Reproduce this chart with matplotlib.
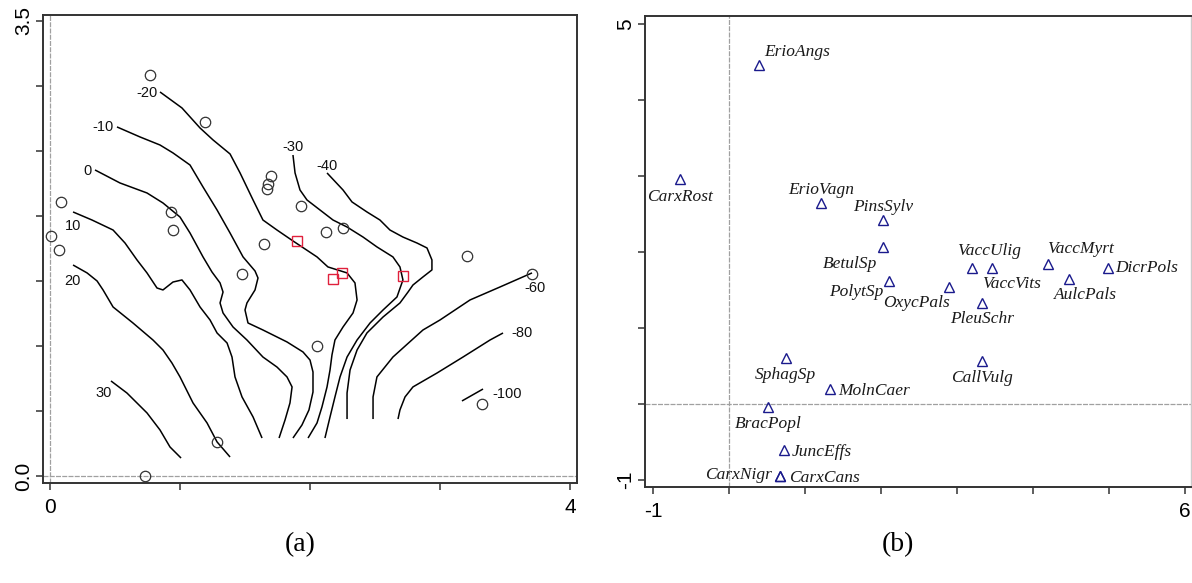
import matplotlib
matplotlib.use("Agg")
import matplotlib.pyplot as plt

# ---------------- Panel (a) data ----------------
site_x = [0.769, 1.192, 1.700, 1.677, 1.669, 1.931, 0.085, 0.931, 0.946, 0.008, 0.069,
          1.646, 1.477, 2.123, 2.254, 3.208, 3.708, 2.054, 3.323, 1.285, 0.731]
site_y = [3.085, 2.723, 2.308, 2.246, 2.208, 2.077, 2.108, 2.031, 1.892, 1.846, 1.738,
          1.785, 1.554, 1.877, 1.908, 1.692, 1.554, 1.000, 0.554, 0.262, 0.000]

special_x = [1.900, 2.246, 2.177, 2.715]
special_y = [1.808, 1.562, 1.515, 1.538]

c30_x = [0.469, 0.592, 0.746, 0.846, 0.923, 1.008]
c30_y = [0.731, 0.638, 0.485, 0.354, 0.223, 0.138]

c20_x = [0.177, 0.285, 0.362, 0.408, 0.485, 0.638, 0.792, 0.869, 0.938, 1.000, 1.100, 1.208, 1.285, 1.385]
c20_y = [1.623, 1.562, 1.500, 1.431, 1.300, 1.177, 1.046, 0.969, 0.869, 0.762, 0.562, 0.408, 0.262, 0.146]

c10_x = [0.177, 0.323, 0.485, 0.577, 0.669, 0.746, 0.823, 0.869, 0.946, 1.015, 1.077,
         1.154, 1.231, 1.285, 1.362, 1.400, 1.423, 1.477, 1.562, 1.631]
c10_y = [2.031, 1.969, 1.892, 1.792, 1.662, 1.562, 1.446, 1.431, 1.492, 1.508, 1.431,
         1.300, 1.200, 1.100, 1.023, 0.915, 0.762, 0.608, 0.454, 0.292]

c0_x = [0.346, 0.538, 0.746, 0.869, 1.000, 1.077, 1.177, 1.246, 1.308, 1.331, 1.308,
        1.331, 1.408, 1.515, 1.638, 1.746, 1.823, 1.862, 1.846, 1.808, 1.762]
c0_y = [2.354, 2.254, 2.177, 2.100, 1.992, 1.869, 1.685, 1.569, 1.485, 1.415, 1.331,
        1.254, 1.146, 1.046, 0.915, 0.838, 0.762, 0.685, 0.562, 0.431, 0.292]

cm10_x = [0.515, 0.692, 0.846, 0.946, 1.077, 1.177, 1.285, 1.385, 1.485, 1.577, 1.600, 1.577,
          1.515, 1.500, 1.523, 1.638, 1.823, 1.946, 2.000, 2.023, 2.023, 1.992, 1.938, 1.869]
cm10_y = [2.685, 2.608, 2.546, 2.485, 2.392, 2.223, 2.046, 1.869, 1.685, 1.577, 1.523, 1.431,
          1.331, 1.277, 1.177, 1.123, 1.031, 0.954, 0.892, 0.800, 0.646, 0.508, 0.392, 0.292]

cm20_x = [0.846, 1.015, 1.154, 1.254, 1.385, 1.462, 1.562, 1.638, 1.746, 1.869, 2.054, 2.138,
          2.285, 2.346, 2.362, 2.331, 2.254, 2.192, 2.169, 2.154, 2.131, 2.092, 2.054, 1.985]
cm20_y = [2.954, 2.831, 2.677, 2.585, 2.477, 2.331, 2.123, 1.969, 1.892, 1.808, 1.685, 1.608,
          1.562, 1.485, 1.354, 1.254, 1.146, 1.046, 0.931, 0.815, 0.685, 0.531, 0.408, 0.292]

cm30_x = [1.869, 1.885, 1.923, 1.977, 2.077, 2.177, 2.285, 2.408, 2.515, 2.638, 2.692,
          2.715, 2.669, 2.562, 2.462, 2.362, 2.285, 2.231, 2.192, 2.154, 2.115]
cm30_y = [2.469, 2.331, 2.200, 2.123, 2.046, 1.969, 1.915, 1.838, 1.762, 1.685, 1.608,
          1.508, 1.377, 1.277, 1.177, 1.046, 0.915, 0.762, 0.608, 0.454, 0.292]

cm40_x = [2.131, 2.254, 2.323, 2.438, 2.538, 2.615, 2.715, 2.823, 2.900, 2.938, 2.938,
          2.869, 2.792, 2.754, 2.692, 2.562, 2.438, 2.362, 2.308, 2.285, 2.285]
cm40_y = [2.331, 2.200, 2.108, 2.031, 1.969, 1.892, 1.838, 1.792, 1.754, 1.662, 1.585,
          1.531, 1.469, 1.415, 1.331, 1.223, 1.100, 0.969, 0.815, 0.638, 0.438]

cm60_x = [3.708, 3.462, 3.231, 3.000, 2.869, 2.638, 2.515, 2.485, 2.485]
cm60_y = [1.562, 1.454, 1.354, 1.200, 1.123, 0.915, 0.762, 0.608, 0.438]

cm80_x = [3.485, 3.385, 3.177, 2.977, 2.792, 2.731, 2.692, 2.677]
cm80_y = [1.100, 1.046, 0.915, 0.792, 0.685, 0.608, 0.508, 0.438]

cm100_x = [3.169, 3.331]
cm100_y = [0.577, 0.669]

contour_labels = ["30", "20", "10", "0", "-10", "-20", "-30", "-40", "-60", "-80", "-100"]
contour_label_x = [0.415, 0.169, 0.177, 0.285, 0.408, 0.746, 1.869, 2.131, 3.731, 3.631, 3.515]
contour_label_y = [0.638, 1.500, 1.923, 2.346, 2.685, 2.946, 2.531, 2.385, 1.446, 1.100, 0.631]

# ---------------- Panel (b) data ----------------
species = ["ErioAngs", "CarxRost", "ErioVagn", "PinsSylv", "BetulSp", "PolytSp", "OxycPals",
           "VaccUlig", "VaccVits", "VaccMyrt", "AulcPals", "DicrPols", "PleuSchr", "CallVulg",
           "SphagSp", "MolnCaer", "BracPopl", "JuncEffs", "CarxCans", "CarxNigr"]
species_x = [0.395, -0.645, 1.211, 2.026, 2.026, 2.105, 2.895, 3.197, 3.461, 4.197, 4.474,
             4.987, 3.329, 3.329, 0.750, 1.329, 0.513, 0.724, 0.671, 0.671]
species_y = [4.461, 2.961, 2.645, 2.421, 2.066, 1.618, 1.539, 1.789, 1.789, 1.842, 1.645,
             1.789, 1.329, 0.566, 0.605, 0.197, -0.039, -0.605, -0.947, -0.947]

# label offsets (screen pixels) for the species names
label_dx = [38, 0, 0, 0, -33, -33, -33, 17, 20, 33, 16, 39, 0, 0, -1, 44, 0, 38, 44, -42]
label_dy = [13, -18, 13, 13, -17, -11, -16, 17, -16, 15, -16, 0, -16, -17, -17, -2, -17, -2, -2, 1]

# ---------------- Figure ----------------
W, H = 1192, 583
fig = plt.figure(figsize=(W / 100, H / 100), dpi=100)

sans = "Liberation Sans"
serif = "Liberation Serif"
spine_col = "#333333"
ref_col = "#a0a0a0"

# ----- panel (a)
axa = fig.add_axes([43 / W, (H - 483) / H, 534 / W, 468 / H])
axa.set_xlim(-0.054, 4.054)
axa.set_ylim(-0.054, 3.546)
axa.axvline(0, color=ref_col, lw=0.9, ls=(0, (4, 1)), zorder=1)
axa.axhline(0, color=ref_col, lw=0.9, ls=(0, (4, 1)), zorder=1)

contour_lines = [(c30_x, c30_y), (c20_x, c20_y), (c10_x, c10_y), (c0_x, c0_y),
                 (cm10_x, cm10_y), (cm20_x, cm20_y), (cm30_x, cm30_y), (cm40_x, cm40_y),
                 (cm60_x, cm60_y), (cm80_x, cm80_y), (cm100_x, cm100_y)]
for xs, ys in contour_lines:
    axa.plot(xs, ys, color="black", lw=1.1, solid_capstyle="butt", zorder=2)
for lab, lx, ly in zip(contour_labels, contour_label_x, contour_label_y):
    axa.text(lx, ly, lab, ha="center", va="center", fontsize=10.5,
             family=sans, color="#111111", zorder=3)

axa.plot(site_x, site_y, ls="none", marker="o", ms=7.5, mfc="none", mec="#333333",
         mew=0.9, zorder=4)
axa.plot(special_x, special_y, ls="none", marker="s", ms=7.5, mfc="none", mec="#e0203c",
         mew=1.0, zorder=5)

axa.set_xticks([0, 1, 2, 3, 4])
axa.set_xticklabels(["0", "", "", "", "4"])
axa.set_yticks([0, 0.5, 1.0, 1.5, 2.0, 2.5, 3.0, 3.5])
axa.set_yticklabels(["0.0", "", "", "", "", "", "", "3.5"], rotation=90, va="center")

# ----- panel (b)
axb = fig.add_axes([645 / W, (H - 487) / H, 546 / W, 471 / H])
axb.set_xlim(-1.105, 6.079)
axb.set_ylim(-1.092, 5.105)
axb.axvline(0, color=ref_col, lw=0.9, ls=(0, (4, 1)), zorder=1)
axb.axhline(0, color=ref_col, lw=0.9, ls=(0, (4, 1)), zorder=1)

axb.plot(species_x, species_y, ls="none", marker="^", ms=6.5, mfc="none", mec="#1a1a8c",
         mew=1.0, zorder=4)
for name, sx, sy, dx, dy in zip(species, species_x, species_y, label_dx, label_dy):
    axb.annotate(name, (sx, sy), xytext=(dx, dy), textcoords="offset pixels",
                 ha="center", va="center", fontsize=12.5, family=serif,
                 style="italic", color="#1a1a1a", zorder=5)

axb.set_xticks([-1, 0, 1, 2, 3, 4, 5, 6])
axb.set_xticklabels(["-1", "", "", "", "", "", "", "6"])
axb.set_yticks([-1, 0, 1, 2, 3, 4, 5])
axb.set_yticklabels(["-1", "", "", "", "", "", "5"], rotation=90, va="center")

for ax in (axa, axb):
    for side in ("left", "bottom", "top", "right"):
        ax.spines[side].set_color(spine_col)
        ax.spines[side].set_linewidth(1.4)
    ax.tick_params(direction="out", length=5, width=1.1, color=spine_col,
                   labelsize=15)
    ax.tick_params(axis="x", pad=6)
    ax.tick_params(axis="y", pad=2)
    for t in ax.get_xticklabels() + ax.get_yticklabels():
        t.set_family(sans)
axb.spines["right"].set_color("#cccccc")
axb.spines["right"].set_linewidth(1.0)

fig.text(300 / W, 1 - 545 / H, "(a)", ha="center", va="center", fontsize=20, family=serif)
fig.text(898 / W, 1 - 545 / H, "(b)", ha="center", va="center", fontsize=20, family=serif)

fig.savefig("out.png", dpi=100)
